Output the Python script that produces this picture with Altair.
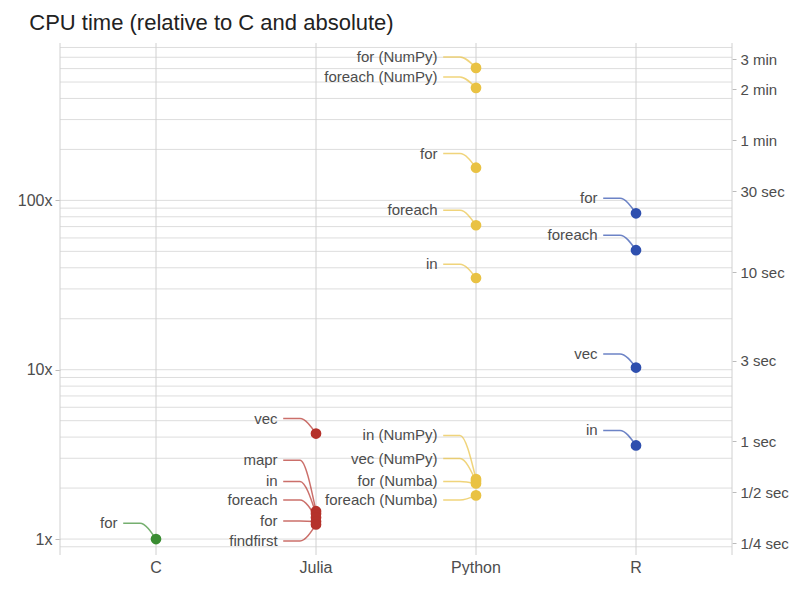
import altair as alt
import pandas as pd

# ---------------- data ----------------
langs = ["C", "Julia", "Python", "R"]
lang_colors = ["#3a8d32", "#b5322b", "#e9c243", "#2e4fae"]

point_lang = ["C",
              "Julia", "Julia", "Julia", "Julia", "Julia", "Julia",
              "Python", "Python", "Python", "Python", "Python",
              "Python", "Python", "Python", "Python",
              "R", "R", "R", "R"]
point_impl = ["for",
              "vec", "mapr", "in", "foreach", "for", "findfirst",
              "for (NumPy)", "foreach (NumPy)", "for", "foreach", "in",
              "in (NumPy)", "vec (NumPy)", "for (Numba)", "foreach (Numba)",
              "for", "foreach", "vec", "in"]
# CPU time relative to C
point_ratio = [1.0,
               4.2, 1.46, 1.41, 1.34, 1.27, 1.22,
               606, 462, 156, 71.3, 34.8,
               2.26, 2.2, 2.13, 1.81,
               83.9, 50.8, 10.3, 3.57]
# where each label sits (same units as the ratio axis)
label_at = [1.24,
            5.15, 2.92, 2.19, 1.70, 1.28, 0.973,
            703, 536, 189, 87.4, 42.0,
            4.09, 2.99, 2.19, 1.70,
            102.8, 62.3, 12.4, 4.38]

c_seconds = 0.265  # absolute CPU time of the C baseline, in seconds
sec_values = [0.25, 0.5, 1, 3, 10, 30, 60, 120, 180]
sec_labels = ["1/4 sec", "1/2 sec", "1 sec", "3 sec", "10 sec", "30 sec",
              "1 min", "2 min", "3 min"]
left_ticks = [1, 10, 100]

y_domain = [0.805, 850]
x_domain = [-0.6, 3.6]

PLOT_W, PLOT_H = 672, 512

# ---------------- tables ----------------
df = pd.DataFrame({"lang": point_lang, "impl": point_impl,
                   "ratio": point_ratio, "label_at": label_at})
df["xi"] = df["lang"].map({l: i for i, l in enumerate(langs)})
df["xl"] = df["xi"] - 0.24
df["key"] = df["lang"] + "|" + df["impl"]

rows = []
for _, r in df.iterrows():
    rows.append({"key": r["key"], "lang": r["lang"], "o": 0, "x": r["xi"] - 0.205, "y": r["label_at"]})
    rows.append({"key": r["key"], "lang": r["lang"], "o": 1, "x": r["xi"] - 0.10, "y": r["label_at"]})
    rows.append({"key": r["key"], "lang": r["lang"], "o": 2, "x": r["xi"], "y": r["ratio"]})
conn = pd.DataFrame(rows)

cat_df = pd.DataFrame({"lang": langs, "xi": list(range(len(langs)))})

grid_vals = [m * 10 ** k for k in range(-1, 3) for m in range(1, 10)]
grid_vals = [g for g in grid_vals if y_domain[0] <= g <= y_domain[1]]
hgrid_df = pd.DataFrame({"g": grid_vals})
vgrid_df = pd.DataFrame({"v": [x_domain[0]] + list(range(len(langs))) + [x_domain[1]]})

right_vals = [s / c_seconds for s in sec_values]
expr = "''"
for v, lab in zip(right_vals, sec_labels):
    expr = f"abs(datum.value / {v} - 1) < 0.001 ? '{lab}' : ({expr})"

FONT = "Liberation Sans"
TXT = "#4d4d4d"

yscale = alt.Scale(type="log", domain=y_domain, nice=False, zero=False)
xscale = alt.Scale(domain=x_domain, nice=False, zero=False)
cscale = alt.Scale(domain=langs, range=lang_colors)

hgrid = alt.Chart(hgrid_df).mark_rule(color="#dddddd", strokeWidth=1).encode(
    y=alt.Y("g:Q", scale=yscale, axis=None))

vgrid = alt.Chart(vgrid_df).mark_rule(color="#d0d0d0", strokeWidth=1).encode(
    x=alt.X("v:Q", scale=xscale, axis=None))

connectors = alt.Chart(conn).mark_line(interpolate="monotone", strokeWidth=1.5, opacity=0.7).encode(
    x=alt.X("x:Q", scale=xscale, axis=None),
    y=alt.Y("y:Q", scale=yscale, axis=None),
    detail="key:N",
    order="o:Q",
    color=alt.Color("lang:N", scale=cscale, legend=None))

points = alt.Chart(df).mark_circle(size=115, opacity=1).encode(
    x=alt.X("xi:Q", scale=xscale, axis=None),
    y=alt.Y("ratio:Q", scale=yscale, title=None,
            axis=alt.Axis(orient="left", values=left_ticks, labelExpr="datum.value + 'x'",
                          tickSize=5, tickColor="#bbbbbb", domain=False, grid=False,
                          labelPadding=3, labelFontSize=16, labelFont=FONT, labelColor=TXT)),
    color=alt.Color("lang:N", scale=cscale, legend=None))

labels = alt.Chart(df).mark_text(align="right", baseline="middle", fontSize=15,
                                 font=FONT, color=TXT).encode(
    x=alt.X("xl:Q", scale=xscale, axis=None),
    y=alt.Y("label_at:Q", scale=yscale, title=None,
            axis=alt.Axis(orient="right", values=right_vals, labelExpr=expr,
                          tickSize=4, tickColor="#bbbbbb", domain=False, grid=False,
                          labelPadding=4, labelFontSize=15, labelFont=FONT, labelColor=TXT)),
    text="impl:N")

cat_labels = alt.Chart(cat_df).mark_text(align="center", baseline="middle", fontSize=16,
                                         font=FONT, color=TXT).encode(
    x=alt.X("xi:Q", scale=xscale, axis=None),
    y=alt.value(PLOT_H + 13),
    text="lang:N")

chart = alt.layer(hgrid, vgrid, connectors, points, labels, cat_labels).resolve_scale(
    y="shared", x="shared").resolve_axis(y="independent").properties(
    width=PLOT_W, height=PLOT_H, autosize="none",
    padding={"left": 52, "top": 35, "right": 57, "bottom": 20},
    title=alt.TitleParams("CPU time (relative to C and absolute)", anchor="start",
                          dx=12, offset=8, fontSize=22, font=FONT,
                          fontWeight="normal", color="#222222"),
).configure_view(stroke=None)

chart.save("out.html", embed_options={"renderer": "svg", "actions": False})
